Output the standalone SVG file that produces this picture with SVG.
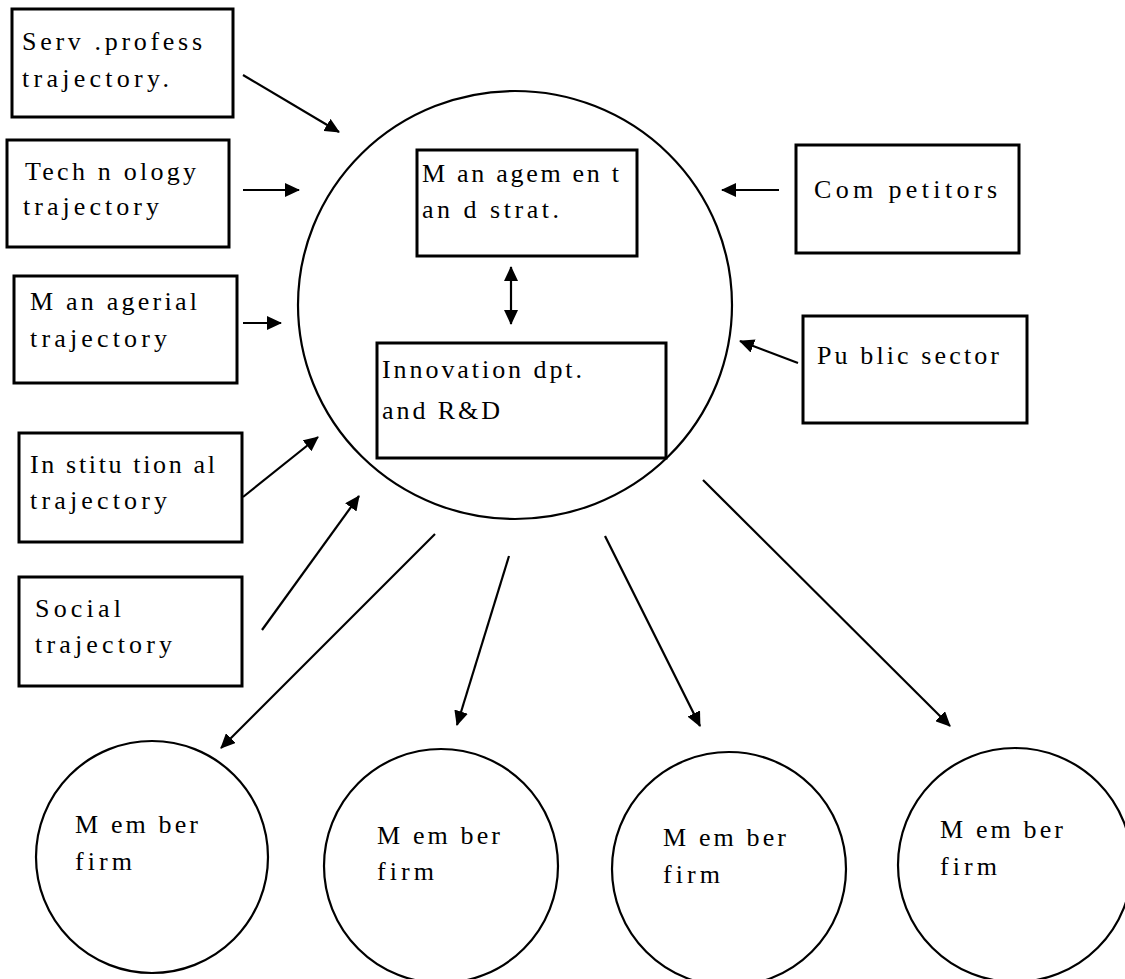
<svg xmlns="http://www.w3.org/2000/svg" width="1125" height="979" viewBox="0 0 1125 979">
<style>
.box{fill:#fff;stroke:#000;stroke-width:3}
.circ{fill:#fff;stroke:#000;stroke-width:2.2}
.t{font-family:"Liberation Serif","Times New Roman",serif;font-size:26px;fill:#000}
.ln{stroke:#000;stroke-width:2.2;fill:none}
</style>
<defs>
<marker id="ah" markerUnits="userSpaceOnUse" markerWidth="16" markerHeight="14" refX="14" refY="7" orient="auto-start-reverse" viewBox="0 0 16 14">
<path d="M0,0 L15,7 L0,14 Z" fill="#000"/>
</marker>
</defs>
<rect width="1125" height="979" fill="#fff"/>
<g id="hub">
<ellipse class="circ" cx="515" cy="305" rx="217" ry="214"/>
</g>
<g id="n-serv"><rect class="box" x="12" y="9" width="221" height="108"/>
<text class="t" x="22" y="50" textLength="180" lengthAdjust="spacing">Serv .profess</text>
<text class="t" x="22" y="87" textLength="147" lengthAdjust="spacing">trajectory.</text></g>
<g id="n-tech"><rect class="box" x="7" y="140" width="222" height="107"/>
<text class="t" x="25" y="180" textLength="171" lengthAdjust="spacing">Tech n ology</text>
<text class="t" x="23" y="215" textLength="136" lengthAdjust="spacing">trajectory</text></g>
<g id="n-mgr"><rect class="box" x="14" y="276" width="223" height="107"/>
<text class="t" x="30" y="310" textLength="167" lengthAdjust="spacing">M an agerial</text>
<text class="t" x="30" y="347" textLength="137" lengthAdjust="spacing">trajectory</text></g>
<g id="n-inst"><rect class="box" x="19" y="433" width="223" height="109"/>
<text class="t" x="30" y="473" textLength="185" lengthAdjust="spacing">In stitu tion al</text>
<text class="t" x="30" y="509" textLength="137" lengthAdjust="spacing">trajectory</text></g>
<g id="n-soc"><rect class="box" x="19" y="577" width="223" height="109"/>
<text class="t" x="35" y="617" textLength="86" lengthAdjust="spacing">Social</text>
<text class="t" x="35" y="653" textLength="137" lengthAdjust="spacing">trajectory</text></g>
<g id="n-mgmt"><rect class="box" x="417" y="150" width="220" height="106"/>
<text class="t" x="422" y="182" textLength="197" lengthAdjust="spacing">M an agem en t</text>
<text class="t" x="422" y="218" textLength="137" lengthAdjust="spacing">an d strat.</text></g>
<g id="n-innov"><rect class="box" x="377" y="343" width="289" height="115"/>
<text class="t" x="382" y="378" textLength="200" lengthAdjust="spacing">Innovation dpt.</text>
<text class="t" x="382" y="419" textLength="118" lengthAdjust="spacing">and R&amp;D</text></g>
<g id="n-comp"><rect class="box" x="796" y="145" width="223" height="108"/>
<text class="t" x="814" y="198" textLength="183" lengthAdjust="spacing">Com petitors</text></g>
<g id="n-pub"><rect class="box" x="803" y="316" width="224" height="107"/>
<text class="t" x="817" y="364" textLength="182" lengthAdjust="spacing">Pu blic sector</text></g>
<g id="m1"><circle class="circ" cx="152" cy="857" r="116"/>
<text class="t" x="75" y="833" textLength="123" lengthAdjust="spacing">M em ber</text>
<text class="t" x="75" y="870" textLength="57" lengthAdjust="spacing">firm</text></g>
<g id="m2"><circle class="circ" cx="441" cy="866" r="117"/>
<text class="t" x="377" y="844" textLength="123" lengthAdjust="spacing">M em ber</text>
<text class="t" x="377" y="880" textLength="57" lengthAdjust="spacing">firm</text></g>
<g id="m3"><circle class="circ" cx="729" cy="869" r="117"/>
<text class="t" x="663" y="846" textLength="123" lengthAdjust="spacing">M em ber</text>
<text class="t" x="663" y="883" textLength="57" lengthAdjust="spacing">firm</text></g>
<g id="m4"><circle class="circ" cx="1015" cy="865" r="117"/>
<text class="t" x="940" y="838" textLength="123" lengthAdjust="spacing">M em ber</text>
<text class="t" x="940" y="875" textLength="57" lengthAdjust="spacing">firm</text></g>
<g id="connectors">
<line class="ln" x1="243" y1="75" x2="339" y2="132" marker-end="url(#ah)"/>
<line class="ln" x1="243" y1="190" x2="299" y2="190" marker-end="url(#ah)"/>
<line class="ln" x1="243" y1="323" x2="281" y2="323" marker-end="url(#ah)"/>
<line class="ln" x1="243" y1="497" x2="318" y2="437" marker-end="url(#ah)"/>
<line class="ln" x1="262" y1="630" x2="359" y2="496" marker-end="url(#ah)"/>
<line class="ln" x1="779" y1="190" x2="722" y2="190" marker-end="url(#ah)"/>
<line class="ln" x1="798" y1="363" x2="740" y2="341" marker-end="url(#ah)"/>
<line class="ln" x1="511" y1="267" x2="511" y2="324" marker-start="url(#ah)" marker-end="url(#ah)"/>
<line class="ln" x1="435" y1="534" x2="221" y2="748" marker-end="url(#ah)"/>
<line class="ln" x1="509" y1="556" x2="457" y2="725" marker-end="url(#ah)"/>
<line class="ln" x1="605" y1="536" x2="700" y2="726" marker-end="url(#ah)"/>
<line class="ln" x1="703" y1="480" x2="950" y2="726" marker-end="url(#ah)"/>
</g>
</svg>
